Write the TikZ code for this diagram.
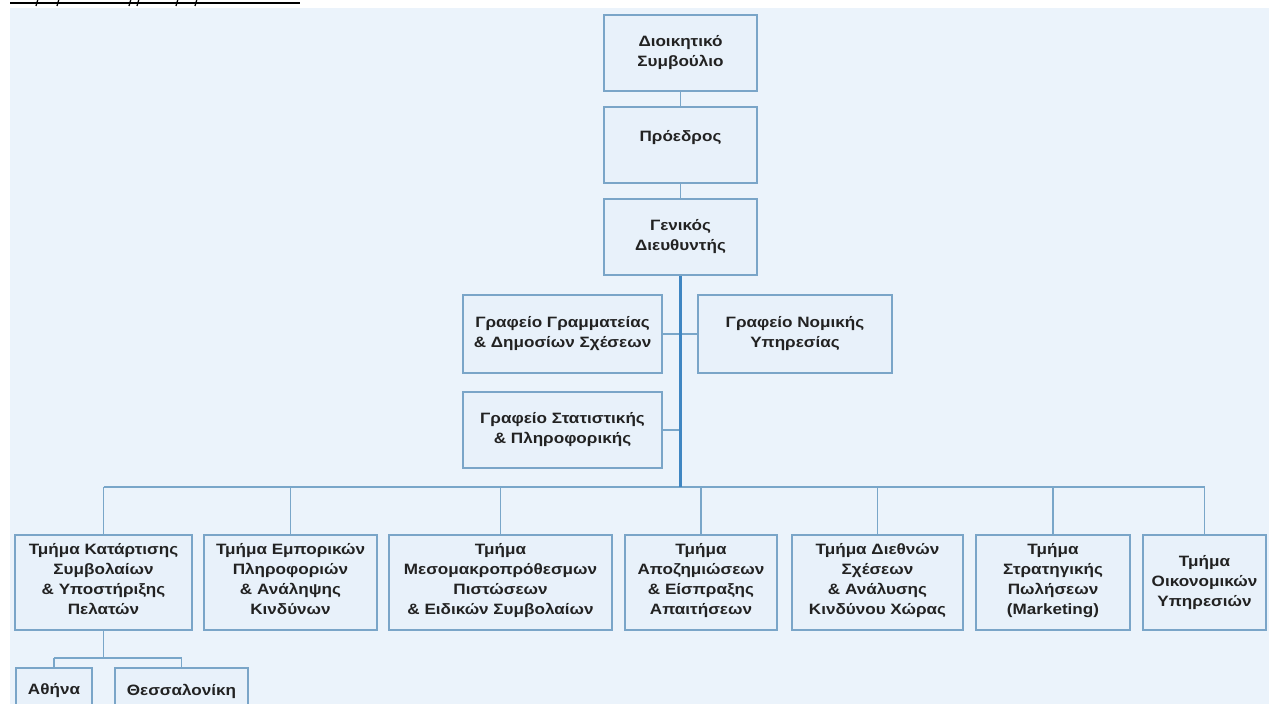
\documentclass[tikz,border=0pt]{standalone}
\usepackage{fontspec}
\setmainfont[FakeStretch=1.14]{Liberation Sans}
\definecolor{bgc}{HTML}{EBF3FB}
\definecolor{boxf}{HTML}{E8F1FA}
\definecolor{boxc}{HTML}{7AA5C8}
\definecolor{linec}{HTML}{79A6C9}
\definecolor{trunkc}{HTML}{3F86C2}
\definecolor{txt}{HTML}{222222}
\begin{document}
\begin{tikzpicture}[x=1pt,y=-1pt,
  box/.style={draw=boxc, fill=boxf, line width=1.6pt, align=center,
    font=\bfseries\fontsize{15}{20}\selectfont, text=txt, inner sep=0pt},
  conn/.style={draw=linec, line width=1.7pt},
  trunk/.style={draw=trunkc, line width=3pt}]
\useasboundingbox (0,0) rectangle (1269,704);
\clip (0,0) rectangle (1269,704);
\fill[bgc] (10,8) rectangle (1269,704);
% clipped heading underline
\draw[line width=2pt] (10,3) -- (300,3);
\foreach \t in {37,58,130,138,177,196}
  \draw[line width=1.3pt] (\t+1,-1) -- (\t-1,6);
% top chain
\node[box, minimum width=153pt, minimum height=76pt] (dc) at (680.5,53) {Διοικητικό\\Συμβούλιο};
\node[box, minimum width=153pt, minimum height=76pt] (pr) at (680.5,145) {Πρόεδρος\\[-2pt]~};
\node[box, minimum width=153pt, minimum height=76pt] (gd) at (680.5,237) {Γενικός\\Διευθυντής};
% offices
\node[box, minimum width=199pt, minimum height=78pt] (g1) at (562.5,334) {Γραφείο Γραμματείας\\\& Δημοσίων Σχέσεων};
\node[box, minimum width=194pt, minimum height=78pt] (g2) at (795,334) {Γραφείο Νομικής\\Υπηρεσίας};
\node[box, minimum width=199pt, minimum height=76pt] (g3) at (562.5,430) {Γραφείο Στατιστικής\\\& Πληροφορικής};
% departments
\node[box, minimum width=177pt, minimum height=95pt] (t1) at (103.5,582.5) {Τμήμα Κατάρτισης\\Συμβολαίων\\\& Υποστήριξης\\Πελατών\\[-12pt]};
\node[box, minimum width=173pt, minimum height=95pt] (t2) at (290.5,582.5) {Τμήμα Εμπορικών\\Πληροφοριών\\\& Ανάληψης\\Κινδύνων\\[-12pt]};
\node[box, minimum width=223pt, minimum height=95pt] (t3) at (500.5,582.5) {Τμήμα\\Μεσομακροπρόθεσμων\\Πιστώσεων\\\& Ειδικών Συμβολαίων\\[-12pt]};
\node[box, minimum width=152pt, minimum height=95pt] (t4) at (701,582.5) {Τμήμα\\Αποζημιώσεων\\\& Είσπραξης\\Απαιτήσεων\\[-12pt]};
\node[box, minimum width=171pt, minimum height=95pt] (t5) at (877.5,582.5) {Τμήμα Διεθνών\\Σχέσεων\\\& Ανάλυσης\\Κινδύνου Χώρας\\[-12pt]};
\node[box, minimum width=154pt, minimum height=95pt] (t6) at (1053,582.5) {Τμήμα\\Στρατηγικής\\Πωλήσεων\\(Marketing)\\[-12pt]};
\node[box, minimum width=123pt, minimum height=95pt] (t7) at (1204.5,582.5) {Τμήμα\\Οικονομικών\\Υπηρεσιών};
% sub offices
\node[box, minimum width=76pt, minimum height=46pt] (s1) at (54,691) {Αθήνα};
\node[box, minimum width=133pt, minimum height=46pt] (s2) at (181.5,691) {Θεσσαλονίκη};
% connectors
\coordinate (bus) at (680.5,487);
\coordinate (sb) at (0,658);
\draw[conn] (dc.south) -- (pr.north);
\draw[conn] (pr.south) -- (gd.north);
\draw[conn] (g1.east) -- (g1.east -| gd.south);
\draw[conn] (g2.west) -- (g2.west -| gd.south);
\draw[conn] (g3.east) -- (g3.east -| gd.south);
\draw[conn] (t1.north |- bus) -- (t7.north |- bus);
\foreach \n in {t1,t2,t3,t4,t5,t6,t7}
  \draw[conn] (\n.north) -- (\n.north |- bus);
\draw[trunk] (gd.south) -- (bus);
\draw[conn] (t1.south) -- (t1.south |- sb);
\draw[conn] (s1.north |- sb) -- (s2.north |- sb);
\draw[conn] (s1.north) -- (s1.north |- sb);
\draw[conn] (s2.north) -- (s2.north |- sb);
\end{tikzpicture}
\end{document}
